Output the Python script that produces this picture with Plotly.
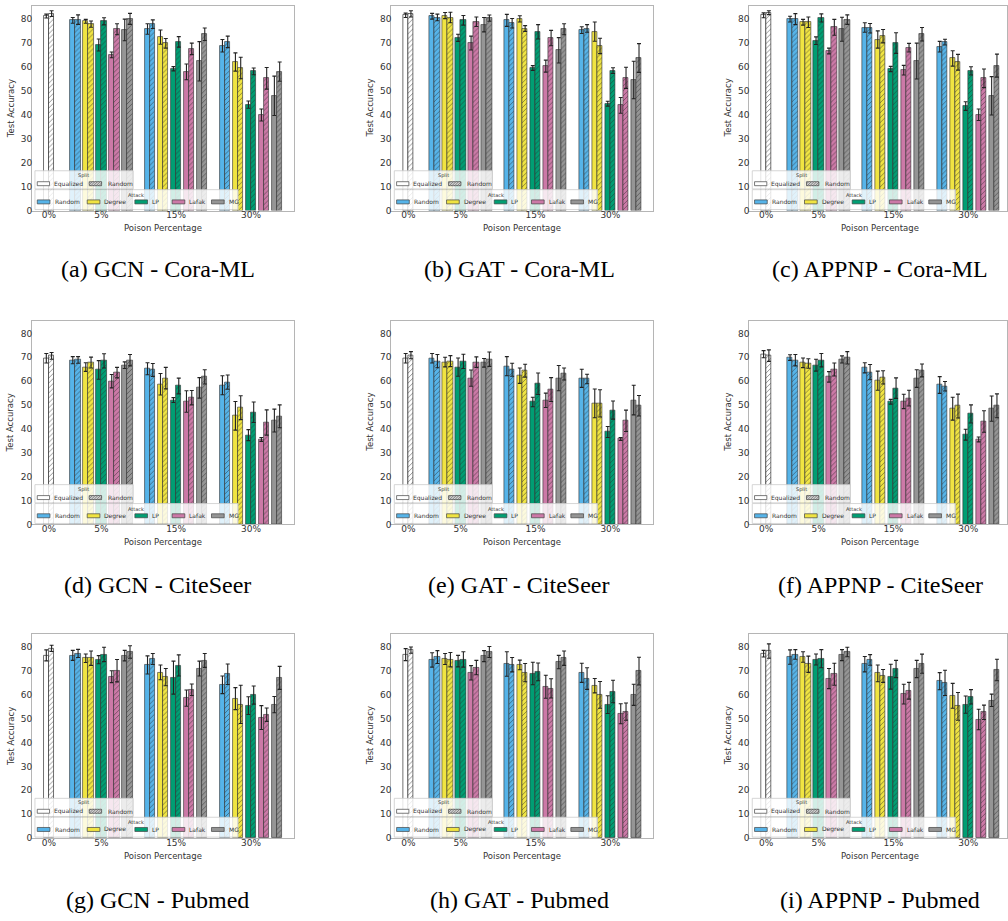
import plotly.graph_objects as go

# ---------------- data ----------------
ATTACKS = ["Random", "Degree", "LP", "Lafak", "MG"]
PCTS = ["0%", "5%", "15%", "30%"]
SPLITS = ["Equalized", "Random"]

# *_BASE: [Equalized, Random] at 0% poison
# *_EQ / *_RD: rows = attacks (Random, Degree, LP, Lafak, MG), cols = 5%, 15%, 30%
GCN_CORA_BASE = [81.2, 82.2]
GCN_CORA_BASE_ERR = [0.8, 1.2]
GCN_CORA_EQ = [[79.4, 75.8, 68.8], [79.0, 72.4, 62.0], [69.1, 59.2, 44.2], [65.0, 57.9, 39.9], [75.4, 62.3, 47.9]]
GCN_CORA_EQ_ERR = [[1.2, 2.2, 2.6], [0.8, 3.0, 3.8], [2.5, 0.9, 1.5], [1.2, 3.3, 2.5], [4.5, 8.2, 8.2]]
GCN_CORA_RD = [[79.7, 77.8, 70.4], [77.8, 69.8, 59.5], [79.0, 70.4, 58.1], [75.7, 67.5, 55.2], [80.0, 73.6, 58.0]]
GCN_CORA_RD_ERR = [[2.0, 1.8, 2.4], [1.3, 2.0, 4.5], [1.5, 2.2, 1.4], [2.3, 2.4, 4.5], [2.3, 2.6, 4.0]]

GAT_CORA_BASE = [81.5, 82.1]
GAT_CORA_BASE_ERR = [0.9, 1.3]
GAT_CORA_EQ = [[81.1, 79.4, 75.3], [81.4, 80.0, 74.7], [72.1, 59.5, 44.6], [69.9, 60.3, 43.9], [77.6, 66.9, 54.5]]
GAT_CORA_EQ_ERR = [[1.2, 2.5, 1.4], [1.3, 1.3, 4.0], [1.5, 1.0, 1.0], [2.9, 2.5, 3.3], [3.0, 5.3, 7.8]]
GAT_CORA_RD = [[80.6, 78.2, 76.0], [80.6, 76.0, 68.7], [79.4, 74.6, 58.4], [78.8, 72.0, 55.4], [80.3, 75.7, 63.7]]
GAT_CORA_RD_ERR = [[1.4, 2.0, 1.6], [2.2, 1.2, 3.2], [2.0, 3.0, 1.2], [2.0, 3.2, 4.4], [1.3, 2.3, 6.0]]

APPNP_CORA_BASE = [81.5, 82.6]
APPNP_CORA_BASE_ERR = [1.0, 0.8]
APPNP_CORA_EQ = [[79.9, 76.4, 68.4], [78.6, 71.4, 63.5], [70.9, 59.1, 43.6], [66.6, 58.6, 40.0], [75.7, 62.4, 47.9]]
APPNP_CORA_EQ_ERR = [[1.2, 2.0, 2.2], [1.2, 3.6, 3.2], [1.6, 1.1, 1.8], [1.2, 2.0, 2.4], [5.0, 7.5, 8.0]]
APPNP_CORA_RD = [[79.9, 76.1, 70.3], [78.6, 72.8, 61.9], [80.4, 69.9, 58.3], [76.5, 68.0, 55.2], [79.7, 73.6, 60.5]]
APPNP_CORA_RD_ERR = [[2.3, 2.0, 1.2], [2.2, 2.8, 3.3], [1.7, 4.3, 1.7], [3.3, 1.8, 3.9], [2.0, 2.8, 4.8]]

GCN_CITE_BASE = [69.6, 70.6]
GCN_CITE_BASE_ERR = [2.0, 1.4]
GCN_CITE_EQ = [[68.8, 65.2, 58.3], [65.9, 58.7, 45.5], [64.7, 52.1, 37.4], [60.0, 51.5, 35.6], [66.7, 57.2, 43.5]]
GCN_CITE_EQ_ERR = [[1.5, 2.5, 4.0], [1.8, 4.5, 6.0], [3.9, 1.0, 2.3], [2.8, 4.5, 0.8], [1.4, 4.3, 4.8]]
GCN_CITE_RD = [[68.9, 64.7, 59.6], [67.8, 61.3, 48.9], [68.5, 58.0, 47.0], [63.6, 53.1, 42.7], [68.8, 61.8, 45.3]]
GCN_CITE_RD_ERR = [[1.4, 2.7, 3.0], [2.3, 4.5, 5.0], [3.0, 3.3, 4.3], [2.2, 3.0, 5.3], [2.4, 3.0, 4.8]]

GAT_CITE_BASE = [69.6, 70.9]
GAT_CITE_BASE_ERR = [2.0, 1.5]
GAT_CITE_EQ = [[69.6, 66.3, 61.2], [68.0, 62.3, 50.7], [65.9, 51.3, 38.7], [61.3, 52.0, 35.8], [67.7, 61.3, 52.1]]
GAT_CITE_EQ_ERR = [[2.0, 4.0, 3.8], [2.0, 3.2, 6.0], [3.8, 2.0, 2.3], [3.4, 3.0, 0.6], [1.8, 5.3, 6.2]]
GAT_CITE_RD = [[68.4, 64.8, 60.9], [68.4, 64.4, 50.7], [68.3, 58.9, 47.9], [68.0, 56.5, 43.4], [69.2, 63.0, 49.7]]
GAT_CITE_RD_ERR = [[2.8, 2.7, 2.0], [2.3, 2.7, 5.7], [3.0, 4.5, 3.8], [2.2, 5.0, 4.5], [3.0, 2.5, 4.3]]

APPNP_CITE_BASE = [71.3, 70.7]
APPNP_CITE_BASE_ERR = [1.5, 2.4]
APPNP_CITE_EQ = [[69.9, 65.6, 58.4], [67.7, 60.2, 48.5], [66.7, 51.4, 37.6], [61.8, 51.5, 35.6], [69.1, 61.1, 48.5]]
APPNP_CITE_EQ_ERR = [[1.2, 2.1, 3.5], [2.0, 4.0, 4.8], [2.5, 1.0, 2.3], [2.2, 3.0, 1.0], [1.5, 3.7, 5.3]]
APPNP_CITE_RD = [[68.8, 63.8, 57.9], [67.4, 61.6, 49.6], [68.8, 57.1, 46.3], [64.9, 52.9, 43.1], [69.8, 64.5, 49.7]]
APPNP_CITE_RD_ERR = [[2.4, 3.2, 2.0], [2.0, 2.8, 5.0], [2.8, 4.3, 3.8], [2.7, 3.3, 4.5], [2.6, 2.7, 5.0]]

GCN_PUB_BASE = [76.4, 79.3]
GCN_PUB_BASE_ERR = [2.3, 1.3]
GCN_PUB_EQ = [[76.4, 72.4, 64.1], [75.2, 69.3, 58.3], [74.6, 67.1, 55.4], [67.5, 58.5, 50.4], [76.3, 70.9, 55.8]]
GCN_PUB_EQ_ERR = [[2.1, 3.8, 3.7], [1.8, 3.1, 4.6], [1.7, 6.9, 3.7], [2.5, 3.4, 5.0], [2.2, 3.1, 3.4]]
GCN_PUB_RD = [[77.2, 74.9, 68.5], [75.2, 67.3, 55.9], [76.8, 72.2, 59.8], [70.0, 62.0, 51.6], [77.8, 74.3, 67.0]]
GCN_PUB_RD_ERR = [[1.7, 2.3, 4.3], [3.0, 3.6, 8.0], [3.0, 4.4, 3.8], [4.7, 2.4, 2.8], [2.6, 2.9, 4.8]]

GAT_PUB_BASE = [76.7, 78.6]
GAT_PUB_BASE_ERR = [2.5, 1.3]
GAT_PUB_EQ = [[74.5, 72.8, 69.1], [74.9, 72.4, 63.7], [74.0, 68.8, 55.8], [69.1, 63.3, 52.0], [76.1, 73.6, 59.9]]
GAT_PUB_EQ_ERR = [[3.0, 5.1, 4.0], [2.3, 2.0, 3.0], [2.4, 4.7, 3.7], [3.0, 4.8, 4.2], [2.3, 2.8, 4.4]]
GAT_PUB_RD = [[75.7, 72.5, 66.7], [74.6, 69.2, 59.9], [74.7, 69.5, 61.3], [71.3, 62.6, 52.9], [77.8, 75.2, 69.8]]
GAT_PUB_RD_ERR = [[2.7, 3.0, 4.5], [3.0, 3.8, 5.6], [3.2, 3.7, 4.7], [3.0, 4.0, 3.6], [2.3, 3.0, 5.8]]

APPNP_PUB_BASE = [77.1, 78.2]
APPNP_PUB_BASE_ERR = [1.4, 3.0]
APPNP_PUB_EQ = [[75.7, 72.7, 65.6], [75.7, 68.9, 59.5], [74.7, 67.5, 55.8], [66.7, 60.2, 49.6], [76.5, 70.7, 57.6]]
APPNP_PUB_EQ_ERR = [[3.0, 3.2, 3.6], [2.2, 3.5, 5.2], [2.3, 5.2, 3.6], [4.2, 4.1, 4.3], [2.3, 3.6, 2.6]]
APPNP_PUB_RD = [[76.8, 74.5, 64.9], [72.7, 67.8, 55.1], [75.0, 70.7, 59.1], [68.5, 61.6, 52.6], [77.8, 72.9, 70.3]]
APPNP_PUB_RD_ERR = [[2.0, 2.2, 5.3], [3.4, 2.7, 5.8], [3.8, 3.6, 3.0], [4.6, 3.5, 3.0], [2.0, 4.0, 4.5]]

CAPTIONS = [
    "(a) GCN - Cora-ML", "(b) GAT - Cora-ML", "(c) APPNP - Cora-ML",
    "(d) GCN - CiteSeer", "(e) GAT - CiteSeer", "(f) APPNP - CiteSeer",
    "(g) GCN - Pubmed", "(h) GAT - Pubmed", "(i) APPNP - Pubmed",
]
PANELS = [
    (GCN_CORA_BASE, GCN_CORA_BASE_ERR, GCN_CORA_EQ, GCN_CORA_EQ_ERR, GCN_CORA_RD, GCN_CORA_RD_ERR),
    (GAT_CORA_BASE, GAT_CORA_BASE_ERR, GAT_CORA_EQ, GAT_CORA_EQ_ERR, GAT_CORA_RD, GAT_CORA_RD_ERR),
    (APPNP_CORA_BASE, APPNP_CORA_BASE_ERR, APPNP_CORA_EQ, APPNP_CORA_EQ_ERR, APPNP_CORA_RD, APPNP_CORA_RD_ERR),
    (GCN_CITE_BASE, GCN_CITE_BASE_ERR, GCN_CITE_EQ, GCN_CITE_EQ_ERR, GCN_CITE_RD, GCN_CITE_RD_ERR),
    (GAT_CITE_BASE, GAT_CITE_BASE_ERR, GAT_CITE_EQ, GAT_CITE_EQ_ERR, GAT_CITE_RD, GAT_CITE_RD_ERR),
    (APPNP_CITE_BASE, APPNP_CITE_BASE_ERR, APPNP_CITE_EQ, APPNP_CITE_EQ_ERR, APPNP_CITE_RD, APPNP_CITE_RD_ERR),
    (GCN_PUB_BASE, GCN_PUB_BASE_ERR, GCN_PUB_EQ, GCN_PUB_EQ_ERR, GCN_PUB_RD, GCN_PUB_RD_ERR),
    (GAT_PUB_BASE, GAT_PUB_BASE_ERR, GAT_PUB_EQ, GAT_PUB_EQ_ERR, GAT_PUB_RD, GAT_PUB_RD_ERR),
    (APPNP_PUB_BASE, APPNP_PUB_BASE_ERR, APPNP_PUB_EQ, APPNP_PUB_EQ_ERR, APPNP_PUB_RD, APPNP_PUB_RD_ERR),
]

# ---------------- style / layout ----------------
W, H = 1008, 921
ATTACK_COLORS = ["#56B4E9", "#F0E442", "#009E73", "#CC79A7", "#959595"]
EDGE = "rgba(45,45,45,0.75)"
HATCH = dict(shape="/", fgcolor="#2a2a2a", size=3.5, solidity=0.28)
ERR_COLOR = "#222222"
TEXT = "#333333"
FRAME = "#b5b5b5"

COL_L = [32.0, 391.7, 750.0]
COL_W = [262.0, 261.6, 258.0]
ROW_T = [6.0, 322.3, 637.3]
ROW_B = [211.7, 527.3, 842.7]
CAP_Y = [270.0, 588.5, 905.0]
CAP_X = [158.0, 520.0, 881.0]
Y_MAX = 85.4

BASE_X = 17.0
GROUP_X = [69.5, 144.3, 219.3]
PAIR_STEP = 13.0
BAR_W = 5.3


def px(x):
    return x / W


def py(y):
    return 1 - y / H


fig = go.Figure()
layout = dict(
    width=W, height=H, margin=dict(l=0, r=0, t=0, b=0),
    paper_bgcolor="white", plot_bgcolor="white", showlegend=False,
    bargap=0, barmode="overlay",
    font=dict(family="DejaVu Sans", color=TEXT),
)
shapes, annotations = [], []

for k, (base, base_err, eq, eq_err, rd, rd_err) in enumerate(PANELS):
    r, c = divmod(k, 3)
    idx = k + 1
    xa = "x" if idx == 1 else f"x{idx}"
    ya = "y" if idx == 1 else f"y{idx}"
    L, T, B, Wd = COL_L[c], ROW_T[r], ROW_B[r], COL_W[c]

    # 0% bars
    for s, split in enumerate(SPLITS):
        mk = dict(color="white", line=dict(color=EDGE, width=0.9))
        if s == 1:
            mk["pattern"] = HATCH
        fig.add_trace(go.Bar(
            x=[BASE_X + (s - 0.5) * BAR_W], y=[base[s]], width=[BAR_W],
            marker=mk, xaxis=xa, yaxis=ya, name=split,
            error_y=dict(type="data", array=[base_err[s]], color=ERR_COLOR, thickness=1.1, width=2),
        ))
    # attack bars
    for a, attack in enumerate(ATTACKS):
        for s, (vals, errs) in enumerate([(eq[a], eq_err[a]), (rd[a], rd_err[a])]):
            xs = [g + (a - 2) * PAIR_STEP + (s - 0.5) * BAR_W for g in GROUP_X]
            mk = dict(color=ATTACK_COLORS[a], line=dict(color=EDGE, width=0.8))
            if s == 1:
                mk["pattern"] = HATCH
            fig.add_trace(go.Bar(
                x=xs, y=vals, width=[BAR_W] * 3, marker=mk, xaxis=xa, yaxis=ya,
                name=f"{attack} ({SPLITS[s]})",
                error_y=dict(type="data", array=errs, color=ERR_COLOR, thickness=1.1, width=2),
            ))

    axis_key = "xaxis" if idx == 1 else f"xaxis{idx}"
    yaxis_key = "yaxis" if idx == 1 else f"yaxis{idx}"
    layout[axis_key] = dict(
        domain=[px(L), min(1.0, px(L + Wd))], range=[0, Wd], anchor=ya,
        tickvals=[BASE_X] + GROUP_X, ticktext=PCTS, ticks="", ticklabelstandoff=-4,
        showgrid=False, zeroline=False, showline=True, mirror=True,
        linecolor=FRAME, linewidth=1, tickfont=dict(size=9, color=TEXT),
        fixedrange=True,
    )
    layout[yaxis_key] = dict(
        domain=[py(B), py(T)], range=[0, Y_MAX], anchor=xa,
        tickvals=list(range(0, 81, 10)), ticks="", ticklabelstandoff=-3,
        showgrid=False, zeroline=False, showline=True, mirror=True,
        linecolor=FRAME, linewidth=1, tickfont=dict(size=9, color=TEXT),
        fixedrange=True,
    )

    # axis titles
    annotations.append(dict(text="Test Accuracy", x=px(L - 21), y=py((T + B) / 2),
                            xref="paper", yref="paper", textangle=-90, showarrow=False,
                            font=dict(size=8.5, color=TEXT), xanchor="center", yanchor="middle"))
    annotations.append(dict(text="Poison Percentage", x=px(L + 131), y=py(B + 17.5),
                            xref="paper", yref="paper", showarrow=False,
                            font=dict(size=8.5, color=TEXT), xanchor="center", yanchor="middle"))
    # caption
    annotations.append(dict(text=CAPTIONS[k], x=px(CAP_X[c]), y=py(CAP_Y[r]),
                            xref="paper", yref="paper", showarrow=False,
                            font=dict(size=24, color="black", family="Liberation Serif"),
                            xanchor="center", yanchor="middle"))

    # ----- legends (drawn manually) -----
    def rect(x0, y0, x1, y1, fill, line, width=0.8, opacity=1.0):
        shapes.append(dict(type="rect", xref="paper", yref="paper",
                           x0=px(x0), x1=px(x1), y0=py(y1), y1=py(y0),
                           fillcolor=fill, line=dict(color=line, width=width),
                           layer="above", opacity=opacity))

    def label(text, x, y, size=6, anchor="left"):
        annotations.append(dict(text=text, x=px(x), y=py(y), xref="paper", yref="paper",
                                showarrow=False, font=dict(size=size, color=TEXT),
                                xanchor=anchor, yanchor="middle"))

    # Split legend box
    rect(L + 3, B - 40, L + 101.3, B - 21.7, "rgba(255,255,255,0.82)", "#cccccc")
    label("Split", L + 52, B - 35.6, size=5, anchor="center")
    rect(L + 5.3, B - 29, L + 17.6, B - 25, "white", "#444444", 0.7)
    label("Equalized", L + 20, B - 27)
    hx0, hx1, htop, hbot = L + 57.3, L + 69.7, B - 29, B - 25
    rect(hx0, htop, hx1, hbot, "white", "#444444", 0.7)
    h = hbot - htop
    segs = []
    x = hx0 - h
    while x < hx1:
        t0 = max(0.0, (hx0 - x) / h)
        t1 = min(1.0, (hx1 - x) / h)
        if t1 > t0:
            segs.append(f"M{px(x + t0 * h):.5f},{py(hbot - t0 * h):.5f}L{px(x + t1 * h):.5f},{py(hbot - t1 * h):.5f}")
        x += 1.6
    shapes.append(dict(type="path", xref="paper", yref="paper", path="".join(segs),
                       line=dict(color="#333333", width=0.6), layer="above"))
    label("Random", L + 74, B - 27)

    # Attack legend box
    rect(L + 3, B - 21, L + 206.3, B - 1, "rgba(255,255,255,0.82)", "#cccccc")
    label("Attack", L + 104.6, B - 15.8, size=5, anchor="center")
    for a, (attack, sx) in enumerate(zip(ATTACKS, [5.3, 55.3, 103.0, 140.3, 179.7])):
        rect(L + sx, B - 10.7, L + sx + 12.7, B - 6.7, ATTACK_COLORS[a], "#444444", 0.7)
        label(attack, L + sx + 15.3, B - 8.7)

layout["shapes"] = shapes
layout["annotations"] = annotations
fig.update_layout(**layout)
fig.write_html(
    "out.html",
    config={"displayModeBar": False},
    post_script="document.body.style.margin='0';document.body.style.overflow='hidden';",
)
